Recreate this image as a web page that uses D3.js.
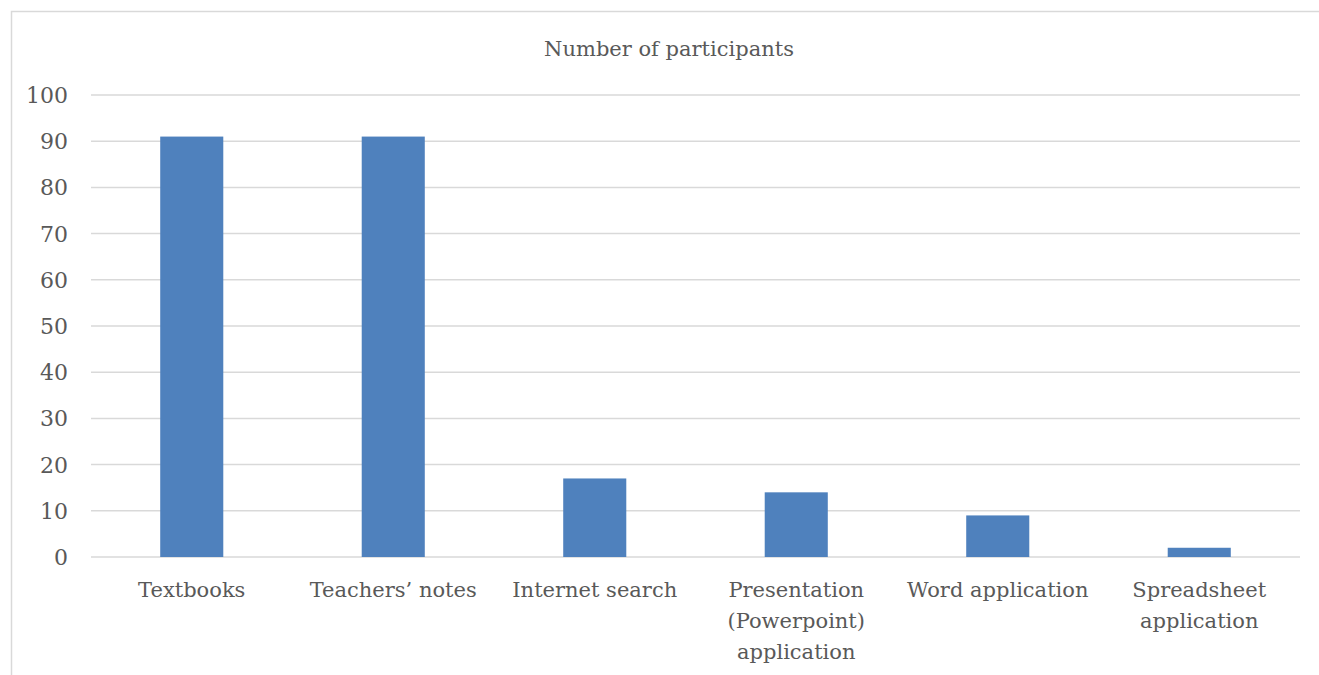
<!DOCTYPE html>
<html>
<head>
<meta charset="utf-8">
<script src="https://cdn.jsdelivr.net/npm/d3@7"></script>
<style>
  body { margin: 0; background: #fff; }
</style>
</head>
<body>
<div id="chart"></div>
<script>
// data
const categories = ["Textbooks", "Teachers\u2019 notes", "Internet search",
  "Presentation (Powerpoint) application", "Word application", "Spreadsheet application"];
const labelLines = [["Textbooks"], ["Teachers\u2019 notes"], ["Internet search"],
  ["Presentation", "(Powerpoint)", "application"], ["Word application"], ["Spreadsheet", "application"]];
const values = [91, 91, 17, 14, 9, 2];
const yTicks = [0, 10, 20, 30, 40, 50, 60, 70, 80, 90, 100];

const W = 1319, H = 675;
const plot = {left: 91, right: 1300, top: 95, bottom: 557};
const font = "'DejaVu Serif', serif";
const textColor = "#595959";

const svg = d3.select("#chart").append("svg")
  .attr("width", W).attr("height", H)
  .attr("font-family", font);

// chart frame: only top and left edges fall inside the picture
svg.append("path")
  .attr("d", `M11.5,${H} V11.5 H${W}`)
  .attr("fill", "none").attr("stroke", "#d9d9d9").attr("stroke-width", 1.5);

const x = d3.scaleBand()
  .domain(categories)
  .range([plot.left, plot.right])
  .paddingInner(0.687)
  .paddingOuter(0.3435);

const y = d3.scaleLinear()
  .domain([0, 100])
  .range([plot.bottom, plot.top]);

// gridlines
svg.append("g")
  .selectAll("line")
  .data(yTicks)
  .join("line")
    .attr("x1", plot.left).attr("x2", plot.right)
    .attr("y1", d => y(d)).attr("y2", d => y(d))
    .attr("stroke", "#d9d9d9").attr("stroke-width", 1.5);

// y tick labels
svg.append("g")
  .selectAll("text")
  .data(yTicks)
  .join("text")
    .attr("x", 68)
    .attr("y", d => y(d))
    .attr("dy", "0.36em")
    .attr("text-anchor", "end")
    .attr("font-size", 22)
    .attr("fill", textColor)
    .text(d => d);

// bars
svg.append("g")
  .selectAll("rect")
  .data(values)
  .join("rect")
    .attr("x", (d, i) => x(categories[i]))
    .attr("y", d => y(d))
    .attr("width", x.bandwidth())
    .attr("height", d => y(0) - y(d))
    .attr("fill", "#4f81bd");

// category labels
const lab = svg.append("g")
  .selectAll("text")
  .data(categories)
  .join("text")
    .attr("x", d => x(d) + x.bandwidth() / 2)
    .attr("y", 597)
    .attr("text-anchor", "middle")
    .attr("font-size", 21)
    .attr("fill", textColor);
lab.selectAll("tspan")
  .data((d, i) => labelLines[i])
  .join("tspan")
    .attr("x", function() { return d3.select(this.parentNode).attr("x"); })
    .attr("dy", (d, j) => j === 0 ? 0 : 31)
    .text(d => d);

// title
svg.append("text")
  .attr("x", 669)
  .attr("y", 56)
  .attr("text-anchor", "middle")
  .attr("font-size", 21)
  .attr("fill", textColor)
  .text("Number of participants");
</script>
</body>
</html>
